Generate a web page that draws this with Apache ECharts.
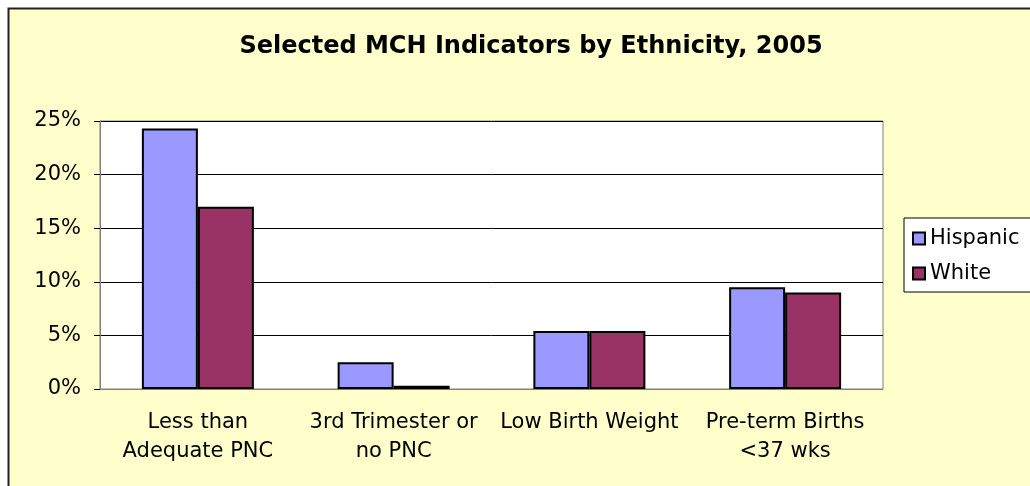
<!DOCTYPE html>
<html>
<head>
<meta charset="utf-8">
<script src="https://cdn.jsdelivr.net/npm/echarts@6/dist/echarts.min.js"></script>
<style>
  html, body { margin: 0; padding: 0; background: #fff; }
  #main { width: 1030px; height: 486px; }
</style>
</head>
<body>
<div id="main"></div>
<script>
// data
const categories = ['Less than\nAdequate PNC', '3rd Trimester or\nno PNC', 'Low Birth Weight', 'Pre-term Births\n<37 wks']
const hispanic = [24.3, 2.5, 5.4, 9.5]
const white = [17.0, 0.3, 5.4, 9.0]
const seriesNames = ['Hispanic', 'White']

const font = 'DejaVu Sans, Arial, sans-serif'
const chart = echarts.init(document.getElementById('main'))

chart.setOption({
  animation: false,
  backgroundColor: '#fff',
  graphic: [{
    type: 'rect',
    z: -10,
    shape: { x: 8.5, y: 8.5, width: 1040, height: 500 },
    style: { fill: '#FFFFCC', stroke: '#222', lineWidth: 2 }
  }],
  title: {
    text: 'Selected MCH Indicators by Ethnicity, 2005',
    left: 526,
    textAlign: 'center',
    top: 30,
    textStyle: { fontFamily: font, fontSize: 24, fontWeight: 'bold', color: '#000' }
  },
  legend: {
    data: seriesNames,
    orient: 'vertical',
    left: 904,
    top: 218,
    padding: [10, 60, 8, 8],
    itemGap: 14,
    itemWidth: 12,
    itemHeight: 12,
    backgroundColor: '#fff',
    borderColor: '#000',
    borderWidth: 1,
    borderRadius: 0,
    icon: 'rect',
    itemStyle: { borderColor: '#000', borderWidth: 2 },
    textStyle: { fontFamily: font, fontSize: 21, color: '#000' }
  },
  grid: {
    left: 100, right: 147, top: 121, bottom: 97,
    show: true,
    backgroundColor: '#fff',
    borderColor: '#808080',
    borderWidth: 1
  },
  xAxis: {
    type: 'category',
    data: categories,
    axisLine: { lineStyle: { color: '#808080', width: 1 } },
    axisTick: { alignWithLabel: false, length: 6, lineStyle: { color: '#000' } },
    axisLabel: {
      interval: 0,
      hideOverlap: false,
      margin: 19,
      lineHeight: 29,
      fontFamily: font, fontSize: 21, color: '#000'
    }
  },
  yAxis: {
    type: 'value',
    min: 0, max: 25, interval: 5,
    axisLine: { show: true, lineStyle: { color: '#808080', width: 1 } },
    axisTick: { show: true, length: 6, lineStyle: { color: '#000' } },
    splitLine: { lineStyle: { color: '#000', width: 1 } },
    axisLabel: {
      margin: 19,
      formatter: '{value}%',
      fontFamily: font, fontSize: 21, color: '#000'
    }
  },
  series: [
    {
      name: seriesNames[0],
      type: 'bar',
      data: hispanic,
      barWidth: 56,
      barGap: '0%',
      itemStyle: { color: '#9999FF', borderColor: '#000', borderWidth: 2 }
    },
    {
      name: seriesNames[1],
      type: 'bar',
      data: white,
      barWidth: 56,
      barGap: '0%',
      itemStyle: { color: '#993366', borderColor: '#000', borderWidth: 2 }
    }
  ]
})
</script>
</body>
</html>
